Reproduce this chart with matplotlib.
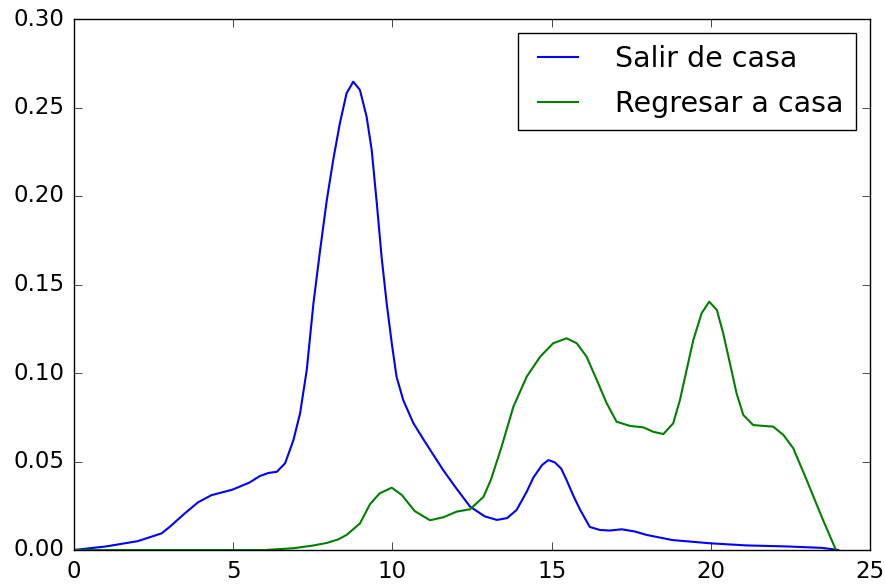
import matplotlib
matplotlib.use("Agg")
import matplotlib.pyplot as plt

# Density of departure times (hour of day)
salir_x = [0.0, 0.5, 1.0, 1.5, 2.0, 2.43, 2.75, 3.0, 3.5, 3.9, 4.32, 4.96, 5.5,
           5.84, 6.1, 6.37, 6.63, 6.89, 7.1, 7.31, 7.52, 7.73, 7.94, 8.14,
           8.35, 8.56, 8.77, 8.98, 9.19, 9.35, 9.51, 9.66, 9.82, 9.98, 10.13,
           10.34, 10.66, 11.02, 11.6, 12.0, 12.44, 12.9, 13.28, 13.6, 13.9,
           14.22, 14.43, 14.7, 14.9, 15.1, 15.3, 15.47, 15.7, 15.9, 16.2, 16.52,
           16.83, 17.2, 17.6, 17.99, 18.8, 19.97, 21.1, 22.4, 23.5, 24.0]
salir_y = [0.0, 0.001, 0.002, 0.0035, 0.005, 0.0075, 0.0094, 0.013, 0.021, 0.027,
           0.031, 0.034, 0.038, 0.0418, 0.0435, 0.0442, 0.049, 0.062, 0.0772,
           0.1017, 0.1394, 0.1695, 0.1977, 0.2203, 0.2411, 0.258, 0.2646,
           0.2599, 0.2448, 0.226, 0.1959, 0.1657, 0.1394, 0.1168, 0.0979,
           0.0847, 0.0716, 0.0612, 0.045, 0.035, 0.0245, 0.019, 0.017, 0.018,
           0.0226, 0.033, 0.041, 0.048, 0.0508, 0.0495, 0.046, 0.0395, 0.030,
           0.0226, 0.013, 0.0113, 0.011, 0.0117, 0.0105, 0.0085, 0.0056, 0.0038,
           0.0026, 0.002, 0.0012, 0.0]

# Density of return times (hour of day)
regresar_x = [0.0, 3.0, 6.0, 6.89, 7.5, 7.94, 8.3, 8.56, 8.98, 9.3, 9.6, 9.98,
              10.3, 10.7, 11.18, 11.6, 12.02, 12.44, 12.86, 13.1, 13.43, 13.8,
              14.22, 14.64, 15.05, 15.47, 15.79, 16.1, 16.42, 16.73, 17.04,
              17.46, 17.88, 18.19, 18.51, 18.82, 19.03, 19.24, 19.45, 19.71,
              19.95, 20.19, 20.39, 20.6, 20.81, 21.02, 21.33, 21.65, 21.96,
              22.28, 22.59, 23.0, 23.5, 23.93]
regresar_y = [0.0, 0.0, 0.0, 0.001, 0.0025, 0.004, 0.006, 0.0085, 0.015, 0.026,
              0.032, 0.0352, 0.031, 0.022, 0.0168, 0.0185, 0.0217, 0.023, 0.030,
              0.040, 0.0584, 0.081, 0.098, 0.1092, 0.1168, 0.1196, 0.1168,
              0.1092, 0.096, 0.0829, 0.0725, 0.0701, 0.0693, 0.0668, 0.0655,
              0.0716, 0.0847, 0.1017, 0.1186, 0.1337, 0.1403, 0.1356, 0.1224,
              0.1055, 0.0885, 0.0763, 0.0706, 0.0701, 0.0697, 0.065, 0.0575,
              0.040, 0.018, 0.0]

plt.style.use("classic")
plt.rcParams["font.family"] = ["DejaVu Sans"]

fig = plt.figure(figsize=(8.85, 5.85), dpi=100, facecolor="white")
ax = fig.add_axes([74 / 885, 1 - 550 / 585, 796 / 885, 531 / 585])
ax.set_facecolor("white")

ax.plot(salir_x, salir_y, color="b", lw=1.5, label="Salir de casa")
ax.plot(regresar_x, regresar_y, color="g", lw=1.5, label="Regresar a casa")

ax.set_xlim(0, 25)
ax.set_ylim(0, 0.30)
ax.set_xticks([0, 5, 10, 15, 20, 25])
ax.set_yticks([0.0, 0.05, 0.10, 0.15, 0.20, 0.25, 0.30])
ax.set_yticklabels(["0.00", "0.05", "0.10", "0.15", "0.20", "0.25", "0.30"])
ax.tick_params(labelsize=16.5, length=6, pad=7)

ax.legend(loc="upper right", fontsize=20.5, frameon=True, borderaxespad=0.5,
          labelspacing=0.6, handletextpad=1.0, borderpad=0.42)

fig.savefig("out.png", dpi=100, facecolor="white")
